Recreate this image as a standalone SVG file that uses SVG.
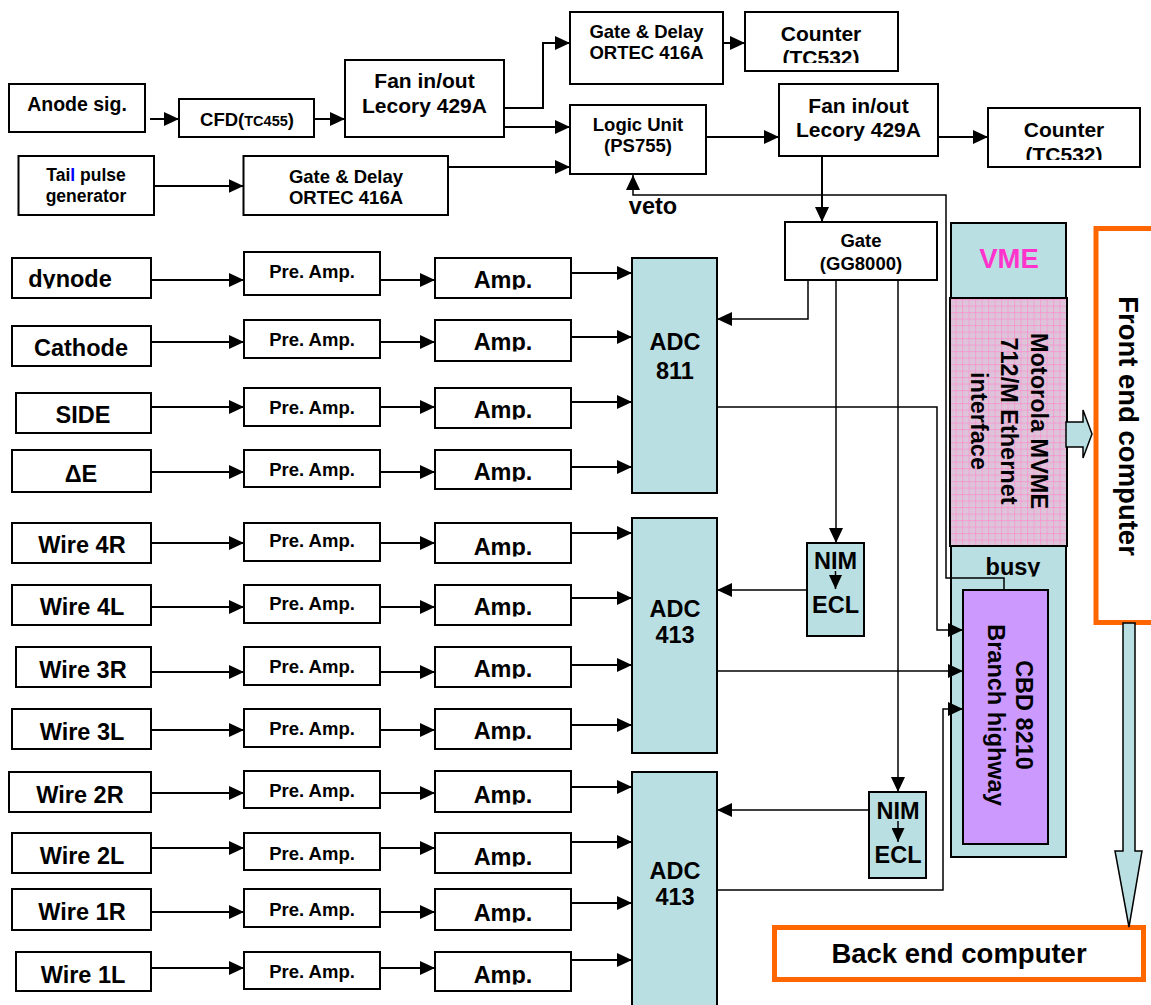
<svg xmlns="http://www.w3.org/2000/svg" width="1151" height="1005" viewBox="0 0 1151 1005">
<style>
.b{fill:#fff;stroke:#000;stroke-width:2}
.t{fill:#b9dfe2;stroke:#000;stroke-width:2}
text{font-family:"Liberation Sans",Arial,sans-serif;font-weight:bold;text-anchor:middle;fill:#000}
.s17{font-size:17.5px}.s18{font-size:18.5px}.s20{font-size:19.5px}.s21{font-size:21px}.s23{font-size:23.5px}.s27{font-size:27.5px}
.cn path{fill:none;stroke:#000;stroke-width:2}
.cn path.th{stroke-width:1.5}
.cd{clip-path:url(#cd)}.cb{clip-path:url(#cb)}
.org{fill:#fff;stroke:#ff6600;stroke-width:5}
</style>
<defs>
<marker id="ah" markerUnits="userSpaceOnUse" markerWidth="15" markerHeight="14" refX="15" refY="7" orient="auto"><path d="M0,0 L15,7 L0,14 z" fill="#000"/></marker>
<marker id="as" markerUnits="userSpaceOnUse" markerWidth="14" markerHeight="13" refX="14" refY="6.5" orient="auto"><path d="M0,0 L14,6.5 L0,13 z" fill="#000"/></marker>
<clipPath id="cd" clipPathUnits="objectBoundingBox"><rect x="-0.1" y="-0.1" width="1.2" height="0.97"/></clipPath>
<clipPath id="cb" clipPathUnits="objectBoundingBox"><rect x="-0.1" y="-0.1" width="1.2" height="0.84"/></clipPath>
<pattern id="pk" patternUnits="userSpaceOnUse" width="6.5" height="6.5"><rect width="6.5" height="6.5" fill="#d9c9dc"/><path d="M0,0.5 H6.5 M0.5,0 V6.5" stroke="#f49ccf" stroke-width="1.2"/><path d="M0,3.5 H6.5 M3.5,0 V6.5" stroke="#eab6d6" stroke-width="0.6"/></pattern>
</defs>
<rect width="1151" height="1005" fill="#fff"/>

<g id="vme"><rect class="t" x="951" y="223" width="115" height="634"/><text class="s27" x="1009" y="268" style="fill:#ff33cc">VME</text></g>
<g id="motorola"><rect x="950" y="298" width="117" height="248" fill="url(#pk)" stroke="#000" stroke-width="2"/>
<text class="s23" transform="translate(1031,421) rotate(90)">Motorola MVME</text>
<text class="s23" transform="translate(1001,421) rotate(90)">712/M Ethernet</text>
<text class="s23" transform="translate(971,421) rotate(90)">interface</text></g>
<g id="busy"><text class="s23 cd" x="1013" y="575">busy</text></g>
<g id="cbd"><rect x="963" y="590" width="85" height="254" fill="#cc99ff" stroke="#000" stroke-width="2"/>
<text class="s23" transform="translate(1016,715) rotate(90)">CBD 8210</text>
<text class="s23" transform="translate(988,715) rotate(90)">Branch highway</text></g>
<g id="frontend"><rect class="org" x="1096" y="228.5" width="100" height="394"/><text class="s27" transform="translate(1119,426) rotate(90)">Front end computer</text></g>
<g id="backend"><rect class="org" x="774.5" y="927.5" width="369" height="52"/><text class="s27" x="959" y="963">Back end computer</text></g>

<g id="anode"><rect class="b" x="9" y="84" width="136" height="48"/><text class="s20" x="77" y="111">Anode sig.</text></g>
<g id="cfd"><rect class="b" x="179" y="99" width="135" height="38"/><text class="s18" x="247" y="126">CFD(<tspan style="font-size:14.5px">TC455</tspan>)</text></g>
<g id="fan1"><rect class="b" x="345" y="60" width="159" height="77"/><text class="s21" x="424.5" y="88">Fan in/out</text><text class="s21" x="424.5" y="112.5">Lecory 429A</text></g>
<g id="tail"><rect class="b" x="18.5" y="156" width="135.5" height="59"/><text class="s17" x="86" y="181">Tai<tspan fill="#0000ff">l</tspan> pulse</text><text class="s17" x="86" y="201.5">generator</text></g>
<g id="gd2"><rect class="b" x="243.5" y="156" width="204.5" height="59"/><text class="s18" x="346" y="182.5">Gate &amp; Delay</text><text class="s18" x="346" y="203.5">ORTEC 416A</text></g>
<g id="gd1"><rect class="b" x="570" y="12" width="153" height="72"/><text class="s18" x="646.5" y="37.5">Gate &amp; Delay</text><text class="s18" x="646.5" y="59">ORTEC 416A</text></g>
<g id="counter1"><rect class="b" x="745" y="12" width="153" height="59"/><text class="s21" x="821" y="40.5">Counter</text><text class="s21 cb" x="821" y="65">(TC532)</text></g>
<g id="logic"><rect class="b" x="570" y="105" width="136" height="69"/><text class="s18" x="638" y="130.5">Logic Unit</text><text class="s18" x="638" y="152">(PS755)</text></g>
<g id="fan2"><rect class="b" x="779" y="84" width="159" height="72"/><text class="s21" x="858.5" y="112.5">Fan in/out</text><text class="s21" x="858.5" y="137">Lecory 429A</text></g>
<g id="counter2"><rect class="b" x="988" y="108" width="152" height="59"/><text class="s21" x="1064" y="137">Counter</text><text class="s21 cb" x="1064" y="162">(TC532)</text></g>
<g id="veto"><text class="s23" x="653" y="214">veto</text></g>
<g id="gate"><rect class="b" x="785" y="222" width="152" height="58"/><text class="s18" x="861" y="246.5">Gate</text><text class="s18" x="861" y="269.5">(GG8000)</text></g>

<g id="adc811"><rect class="t" x="632" y="258" width="85" height="235"/><text class="s23" x="675" y="350">ADC</text><text class="s23" x="675" y="379">811</text></g>
<g id="adc413a"><rect class="t" x="632" y="518" width="85" height="235"/><text class="s23" x="675" y="617">ADC</text><text class="s23" x="675" y="643">413</text></g>
<g id="adc413b"><rect class="t" x="632" y="772" width="85" height="245"/><text class="s23" x="675" y="879">ADC</text><text class="s23" x="675" y="905">413</text></g>
<g id="nim1"><rect class="t" x="807" y="543" width="57" height="93"/><text class="s23" x="835.5" y="569">NIM</text><text class="s23" x="835.5" y="613">ECL</text></g>
<g id="nim2"><rect class="t" x="869" y="792" width="57" height="86"/><text class="s23" x="898" y="819">NIM</text><text class="s23" x="898" y="863">ECL</text></g>

<g id="src-dynode"><rect class="b" x="12" y="258" width="139" height="40"/><text class="s23 cd" x="70" y="287">dynode</text></g>
<g id="pre-1"><rect class="b" x="244" y="252" width="136" height="43"/><text class="s18" x="312" y="278">Pre. Amp.</text></g>
<g id="amp-1"><rect class="b" x="435" y="258" width="136" height="40"/><text class="s23 cd" x="503" y="288">Amp.</text></g>

<g id="src-cathode"><rect class="b" x="12" y="326" width="139" height="40"/><text class="s23" x="81" y="356">Cathode</text></g>
<g id="pre-2"><rect class="b" x="244" y="320" width="136" height="38"/><text class="s18" x="312" y="346">Pre. Amp.</text></g>
<g id="amp-2"><rect class="b" x="435" y="320" width="136" height="41"/><text class="s23 cd" x="503" y="350">Amp.</text></g>

<g id="src-side"><rect class="b" x="16" y="393" width="135" height="40"/><text class="s23" x="83" y="423">SIDE</text></g>
<g id="pre-3"><rect class="b" x="244" y="388" width="136" height="38"/><text class="s18" x="312" y="414">Pre. Amp.</text></g>
<g id="amp-3"><rect class="b" x="435" y="388" width="136" height="40"/><text class="s23 cd" x="503" y="418">Amp.</text></g>

<g id="src-de"><rect class="b" x="12" y="450" width="139" height="42"/><text class="s23" x="81" y="482">ΔE</text></g>
<g id="pre-4"><rect class="b" x="244" y="450" width="136" height="37"/><text class="s18" x="312" y="476">Pre. Amp.</text></g>
<g id="amp-4"><rect class="b" x="435" y="450" width="136" height="39"/><text class="s23 cd" x="503" y="480">Amp.</text></g>

<g id="src-w4r"><rect class="b" x="12" y="523" width="139" height="40"/><text class="s23" x="82" y="553">Wire 4R</text></g>
<g id="pre-5"><rect class="b" x="244" y="523" width="136" height="38"/><text class="s18" x="312" y="547">Pre. Amp.</text></g>
<g id="amp-5"><rect class="b" x="435" y="523" width="136" height="40"/><text class="s23 cd" x="503" y="555">Amp.</text></g>

<g id="src-w4l"><rect class="b" x="12" y="585" width="139" height="40"/><text class="s23" x="82" y="615">Wire 4L</text></g>
<g id="pre-6"><rect class="b" x="244" y="585" width="136" height="38"/><text class="s18" x="312" y="610">Pre. Amp.</text></g>
<g id="amp-6"><rect class="b" x="435" y="585" width="136" height="40"/><text class="s23 cd" x="503" y="615">Amp.</text></g>

<g id="src-w3r"><rect class="b" x="16" y="647" width="135" height="40"/><text class="s23" x="83" y="678">Wire 3R</text></g>
<g id="pre-7"><rect class="b" x="244" y="647" width="136" height="38"/><text class="s18" x="312" y="673">Pre. Amp.</text></g>
<g id="amp-7"><rect class="b" x="435" y="647" width="136" height="40"/><text class="s23 cd" x="503" y="677">Amp.</text></g>

<g id="src-w3l"><rect class="b" x="12" y="709" width="139" height="40"/><text class="s23" x="82" y="740">Wire 3L</text></g>
<g id="pre-8"><rect class="b" x="244" y="709" width="136" height="38"/><text class="s18" x="312" y="735">Pre. Amp.</text></g>
<g id="amp-8"><rect class="b" x="435" y="709" width="136" height="40"/><text class="s23 cd" x="503" y="739">Amp.</text></g>

<g id="src-w2r"><rect class="b" x="9" y="772" width="142" height="40"/><text class="s23" x="80" y="803">Wire 2R</text></g>
<g id="pre-9"><rect class="b" x="244" y="771" width="136" height="37"/><text class="s18" x="312" y="797">Pre. Amp.</text></g>
<g id="amp-9"><rect class="b" x="435" y="771" width="136" height="41"/><text class="s23 cd" x="503" y="803">Amp.</text></g>

<g id="src-w2l"><rect class="b" x="12" y="833" width="139" height="40"/><text class="s23" x="82" y="864">Wire 2L</text></g>
<g id="pre-10"><rect class="b" x="244" y="833" width="136" height="37"/><text class="s18" x="312" y="860">Pre. Amp.</text></g>
<g id="amp-10"><rect class="b" x="435" y="833" width="136" height="40"/><text class="s23 cd" x="503" y="865">Amp.</text></g>

<g id="src-w1r"><rect class="b" x="12" y="889" width="139" height="41"/><text class="s23" x="82" y="920">Wire 1R</text></g>
<g id="pre-11"><rect class="b" x="244" y="889" width="136" height="38"/><text class="s18" x="312" y="916">Pre. Amp.</text></g>
<g id="amp-11"><rect class="b" x="435" y="889" width="136" height="41"/><text class="s23 cd" x="503" y="921">Amp.</text></g>

<g id="src-w1l"><rect class="b" x="16" y="952" width="135" height="39"/><text class="s23" x="83" y="983">Wire 1L</text></g>
<g id="pre-12"><rect class="b" x="244" y="952" width="136" height="37"/><text class="s18" x="312" y="978">Pre. Amp.</text></g>
<g id="amp-12"><rect class="b" x="435" y="952" width="136" height="39"/><text class="s23 cd" x="503" y="983">Amp.</text></g>

<g id="connectors" class="cn">
<path d="M150,119 H179" marker-end="url(#ah)"/>
<path d="M314,119 H345" marker-end="url(#ah)"/>
<path d="M504,108 H543 V43 H570" marker-end="url(#ah)"/>
<path d="M504,127 H570" marker-end="url(#ah)"/>
<path d="M154,186 H243.5" marker-end="url(#ah)"/>
<path d="M448,167 H570" marker-end="url(#ah)"/>
<path d="M723,43 H745" marker-end="url(#ah)"/>
<path d="M706,137 H779" marker-end="url(#ah)"/>
<path d="M938,137 H988" marker-end="url(#ah)"/>
<path d="M822,156 V222" marker-end="url(#ah)"/>
<path class="th" d="M1004,590 V578 H946 V195 H633 V175" marker-end="url(#ah)"/>
<path class="th" d="M808,280 V319 H717" marker-end="url(#ah)"/>
<path class="th" d="M836,280 V543" marker-end="url(#ah)"/>
<path class="th" d="M898,280 V792" marker-end="url(#ah)"/>
<path class="th" d="M835.5,571 V589" marker-end="url(#as)"/>
<path class="th" d="M898,821 V842" marker-end="url(#as)"/>
<path class="th" d="M807,590 H717" marker-end="url(#ah)"/>
<path class="th" d="M869,810 H717" marker-end="url(#ah)"/>
<path class="th" d="M717,407 H937 V630 H963" marker-end="url(#ah)"/>
<path class="th" d="M717,671 H963" marker-end="url(#ah)"/>
<path class="th" d="M717,890 H943 V709 H963" marker-end="url(#ah)"/>
<path d="M1066,422 H1083 V410 L1092,434 L1083,458 V447 H1066 Z" style="fill:#b9dfe2;stroke:#000;stroke-width:1.5"/>
<path d="M1123,623 H1135 V851 H1142 L1129,927 L1115,851 H1123 Z" style="fill:#b9dfe2;stroke:#000;stroke-width:1.5"/>
<path d="M151,280 H244" marker-end="url(#ah)"/><path d="M380,280 H435" marker-end="url(#ah)"/><path d="M571,273 H632" marker-end="url(#ah)"/>
<path d="M151,342 H244" marker-end="url(#ah)"/><path d="M380,342 H435" marker-end="url(#ah)"/><path d="M571,337 H632" marker-end="url(#ah)"/>
<path d="M151,407 H244" marker-end="url(#ah)"/><path d="M380,407 H435" marker-end="url(#ah)"/><path d="M571,402 H632" marker-end="url(#ah)"/>
<path d="M151,472 H244" marker-end="url(#ah)"/><path d="M380,472 H435" marker-end="url(#ah)"/><path d="M571,467 H632" marker-end="url(#ah)"/>
<path d="M151,543 H244" marker-end="url(#ah)"/><path d="M380,543 H435" marker-end="url(#ah)"/><path d="M571,533 H632" marker-end="url(#ah)"/>
<path d="M151,607 H244" marker-end="url(#ah)"/><path d="M380,607 H435" marker-end="url(#ah)"/><path d="M571,598 H632" marker-end="url(#ah)"/>
<path d="M151,672 H244" marker-end="url(#ah)"/><path d="M380,672 H435" marker-end="url(#ah)"/><path d="M571,665 H632" marker-end="url(#ah)"/>
<path d="M151,730 H244" marker-end="url(#ah)"/><path d="M380,730 H435" marker-end="url(#ah)"/><path d="M571,725 H632" marker-end="url(#ah)"/>
<path d="M151,793 H244" marker-end="url(#ah)"/><path d="M380,793 H435" marker-end="url(#ah)"/><path d="M571,787 H632" marker-end="url(#ah)"/>
<path d="M151,848 H244" marker-end="url(#ah)"/><path d="M380,848 H435" marker-end="url(#ah)"/><path d="M571,842 H632" marker-end="url(#ah)"/>
<path d="M151,912 H244" marker-end="url(#ah)"/><path d="M380,912 H435" marker-end="url(#ah)"/><path d="M571,903 H632" marker-end="url(#ah)"/>
<path d="M151,968 H244" marker-end="url(#ah)"/><path d="M380,968 H435" marker-end="url(#ah)"/><path d="M571,960 H632" marker-end="url(#ah)"/>
</g>
</svg>
